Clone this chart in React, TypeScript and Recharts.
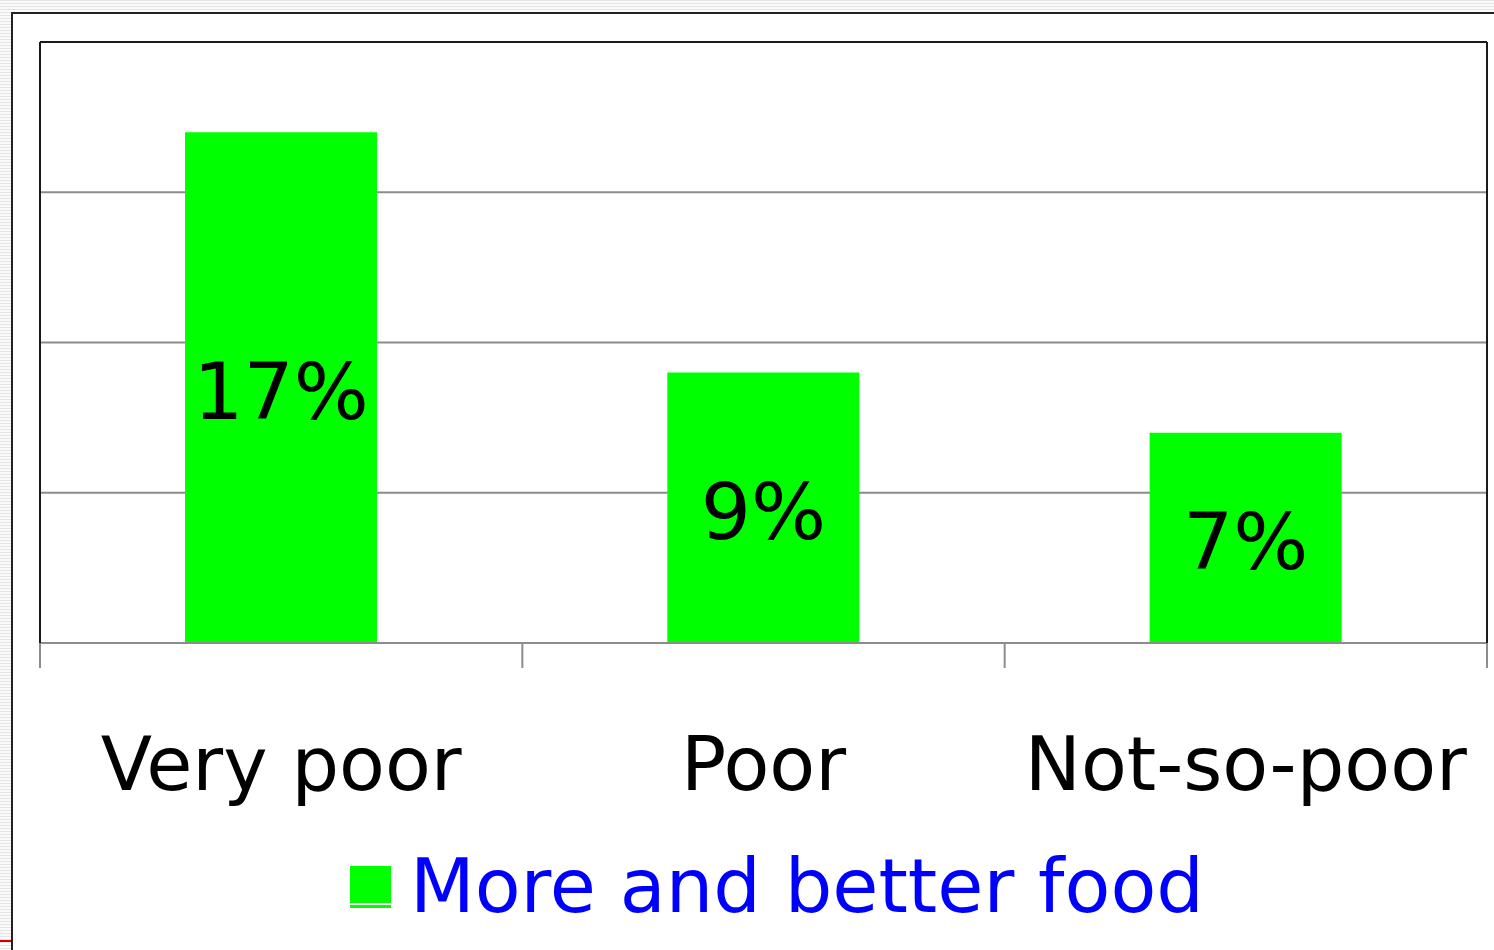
import React from 'react';
import {
  BarChart,
  Bar,
  XAxis,
  YAxis,
  CartesianGrid,
  Legend,
  LabelList,
  ReferenceLine,
} from 'recharts';

// categories and values (share of households, %)
const categories = ['Very poor', 'Poor', 'Not-so-poor'];
const moreAndBetterFood = [17, 9, 7];
const yTicks = [0, 5, 10, 15, 20];
const seriesName = 'More and better food';

const data = categories.map((name, i) => ({ name, food: moreAndBetterFood[i] }));
const yMax = yTicks[yTicks.length - 1];

const FONT = '"DejaVu Sans", Verdana, sans-serif';

// tick label + the tick marks on the band edges
const CategoryTick = (props: any) => {
  const { x, y, payload, index } = props;
  const half = payload?.offset ?? 241;
  return (
    <g>
      {index === 0 && (
        <line x1={x - half} x2={x - half} y1={y} y2={y + 25} stroke="#8c8c8c" strokeWidth={2} />
      )}
      <line x1={x + half} x2={x + half} y1={y} y2={y + 25} stroke="#8c8c8c" strokeWidth={2} />
      <text x={x} y={y + 147} textAnchor="middle" fontSize={75} fontFamily={FONT} fill="#000">
        {payload.value}
      </text>
    </g>
  );
};

const LegendContent = () => (
  <svg width={1494} height={90} style={{ display: 'block', overflow: 'visible' }}>
    <rect x={350} y={6} width={41} height={37} fill="#00ff00" />
    <rect x={350} y={45} width={41} height={3} fill="#00ff00" />
    <text x={410} y={52} fontSize={75} fontFamily={FONT} fill="#0000ff">
      {seriesName}
    </text>
  </svg>
);

export default function App() {
  return (
    <div
      style={{
        position: 'absolute',
        left: 0,
        top: 0,
        width: 1494,
        height: 950,
        overflow: 'hidden',
        background: 'repeating-linear-gradient(180deg, #e4e4e4 0px, #e4e4e4 1px, #fafafa 1px, #fafafa 3px)',
      }}
    >
      <div
        style={{
          position: 'absolute',
          left: 11,
          top: 12,
          width: 1600,
          height: 1000,
          border: '2px solid #222',
          background: '#fff',
        }}
      />
      <div style={{ position: 'absolute', left: 0, top: 940, width: 11, height: 2, background: '#d00000' }} />
      <div style={{ position: 'absolute', left: 0, top: 0 }}>
        <BarChart
          width={1494}
          height={950}
          data={data}
          margin={{ top: 42, right: 6, left: 39, bottom: 0 }}
          barCategoryGap={0}
        >
          <CartesianGrid
            yAxisId="left"
            horizontal
            vertical={false}
            stroke="#8c8c8c"
            strokeWidth={2}
            horizontalCoordinatesGenerator={({ offset }: any) =>
              yTicks.map((t) => offset.top + offset.height * (1 - t / yMax))
            }
          />
          <XAxis
            dataKey="name"
            height={217}
            tickLine={false}
            tickSize={0}
            tickMargin={0}
            axisLine={{ stroke: '#8c8c8c', strokeWidth: 2 }}
            tick={<CategoryTick />}
            interval={0}
          />
          <YAxis
            yAxisId="left"
            domain={[0, yMax]}
            ticks={yTicks}
            width={1}
            tick={false}
            tickLine={false}
            axisLine={{ stroke: '#1a1a1a', strokeWidth: 2 }}
          />
          <YAxis
            yAxisId="right"
            orientation="right"
            domain={[0, yMax]}
            ticks={yTicks}
            width={1}
            tick={false}
            tickLine={false}
            axisLine={{ stroke: '#1a1a1a', strokeWidth: 2 }}
          />
          <ReferenceLine yAxisId="left" y={yMax} stroke="#1a1a1a" strokeWidth={2} />
          <Legend
            verticalAlign="bottom"
            content={<LegendContent />}
            wrapperStyle={{ left: 0, bottom: 0, width: 1494, height: 90 }}
          />
          <Bar
            yAxisId="left"
            dataKey="food"
            name={seriesName}
            fill="#00ff00"
            barSize={192}
            isAnimationActive={false}
          >
            <LabelList
              dataKey="food"
              position="center"
              formatter={(v: any) => `${v}%`}
              fill="#000"
              fontSize={79}
              fontFamily={FONT}
              dy={3}
            />
          </Bar>
        </BarChart>
      </div>
    </div>
  );
}
